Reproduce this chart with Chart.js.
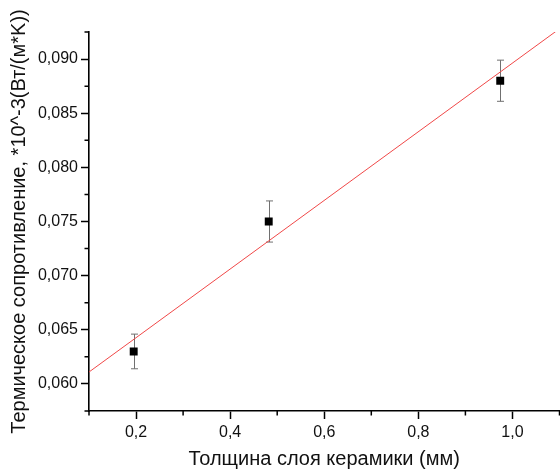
<!DOCTYPE html>
<html>
<head>
<meta charset="utf-8">
<script src="https://cdn.jsdelivr.net/npm/chart.js@4/dist/chart.umd.min.js"></script>
<style>
  body { margin: 0; background: #fff; }
  canvas { display: block; }
</style>
</head>
<body>
<canvas id="myChart" width="560" height="471"></canvas>
<script>
// data
var xVals = [0.195, 0.482, 0.974];
var yVals = [0.063, 0.075, 0.088];
var yErr  = [0.0016, 0.0019, 0.0019];

// linear fit line (ends of the red line)
var fitX = [0.1, 1.1];
var fitY = [0.0611, 0.0928];

var xTicks = [0.2, 0.4, 0.6, 0.8, 1.0];
var yTicks = [0.060, 0.065, 0.070, 0.075, 0.080, 0.085, 0.090];
var xMinor = [0.1, 0.3, 0.5, 0.7, 0.9, 1.1];
var yMinor = [0.0575, 0.0625, 0.0675, 0.0725, 0.0775, 0.0825, 0.0875, 0.0925];

var font = "'Liberation Sans', Arial, sans-serif";

function comma(v, d) {
  return Number(v).toFixed(d).replace('.', ',');
}

var pts = [];
for (var i = 0; i < xVals.length; i++) pts.push({ x: xVals[i], y: yVals[i] });
var fit = [];
for (var i = 0; i < fitX.length; i++) fit.push({ x: fitX[i], y: fitY[i] });

// error bars, drawn under the squares
var errorBars = {
  id: 'errorBars',
  beforeDatasetsDraw: function (chart) {
    var ctx = chart.ctx, xs = chart.scales.x, ys = chart.scales.y;
    ctx.save();
    ctx.strokeStyle = '#707070';
    ctx.lineWidth = 1;
    for (var i = 0; i < xVals.length; i++) {
      var px = Math.round(xs.getPixelForValue(xVals[i])) + 0.5;
      var top = ys.getPixelForValue(yVals[i] + yErr[i]);
      var bot = ys.getPixelForValue(yVals[i] - yErr[i]);
      ctx.beginPath();
      ctx.moveTo(px, top); ctx.lineTo(px, bot);
      ctx.moveTo(px - 3.5, top); ctx.lineTo(px + 3.5, top);
      ctx.moveTo(px - 3.5, bot); ctx.lineTo(px + 3.5, bot);
      ctx.stroke();
    }
    ctx.restore();
  }
};

// minor ticks, outside the axes
var minorTicks = {
  id: 'minorTicks',
  afterDraw: function (chart) {
    var ctx = chart.ctx, xs = chart.scales.x, ys = chart.scales.y;
    var a = chart.chartArea;
    ctx.save();
    ctx.strokeStyle = '#000';
    ctx.lineWidth = 1.5;
    ctx.beginPath();
    xMinor.forEach(function (v) {
      var p = xs.getPixelForValue(v);
      ctx.moveTo(p, a.bottom); ctx.lineTo(p, a.bottom + 4.5);
    });
    yMinor.forEach(function (v) {
      var p = ys.getPixelForValue(v);
      ctx.moveTo(a.left, p); ctx.lineTo(a.left - 4.5, p);
    });
    ctx.stroke();
    ctx.restore();
  }
};

var ctx = document.getElementById('myChart').getContext('2d');
var chart = new Chart(ctx, {
  type: 'scatter',
  data: {
    datasets: [
      {
        label: 'data',
        data: pts,
        pointStyle: 'rect',
        pointRadius: 5.6,
        backgroundColor: '#000',
        borderColor: '#000',
        borderWidth: 0
      },
      {
        type: 'line',
        label: 'fit',
        data: fit,
        borderColor: '#f04848',
        borderWidth: 1,
        pointRadius: 0,
        fill: false
      }
    ]
  },
  options: {
    responsive: false,
    animation: false,
    layout: { autoPadding: false, padding: { top: 32, right: 0.5, left: 0, bottom: 0 } },
    plugins: { legend: { display: false }, tooltip: { enabled: false } },
    scales: {
      x: {
        type: 'linear',
        min: 0.1,
        max: 1.1,
        afterBuildTicks: function (s) { s.ticks = xTicks.map(function (v) { return { value: v }; }); },
        afterFit: function (s) { s.height = 60; s.paddingRight = 0; s.paddingLeft = 0; },
        grid: { drawOnChartArea: false, drawTicks: true, tickLength: 8, tickColor: '#000', tickWidth: 1.5 },
        border: { display: true, color: '#000', width: 1.6 },
        ticks: {
          padding: 4,
          color: '#111',
          font: { family: font, size: 16 },
          callback: function (v) { return comma(v, 1); }
        },
        title: {
          display: true,
          text: 'Толщина слоя керамики (мм)',
          color: '#111',
          font: { family: font, size: 20 },
          padding: { top: 0, bottom: 0 }
        }
      },
      y: {
        type: 'linear',
        min: 0.0575,
        max: 0.0925,
        afterBuildTicks: function (s) { s.ticks = yTicks.map(function (v) { return { value: v }; }); },
        afterFit: function (s) { s.width = 89; s.paddingTop = 0; s.paddingBottom = 0; },
        grid: { drawOnChartArea: false, drawTicks: true, tickLength: 8, tickColor: '#000', tickWidth: 1.5 },
        border: { display: true, color: '#000', width: 1.6 },
        ticks: {
          padding: 3,
          color: '#111',
          font: { family: font, size: 16 },
          callback: function (v) { return comma(v, 3); }
        },
        title: {
          display: true,
          text: 'Термическое сопротивление, *10^-3(Вт/(м*K))',
          color: '#111',
          font: { family: font, size: 20 },
          padding: { top: 7, bottom: 0 }
        }
      }
    }
  },
  plugins: [errorBars, minorTicks]
});
</script>
</body>
</html>
